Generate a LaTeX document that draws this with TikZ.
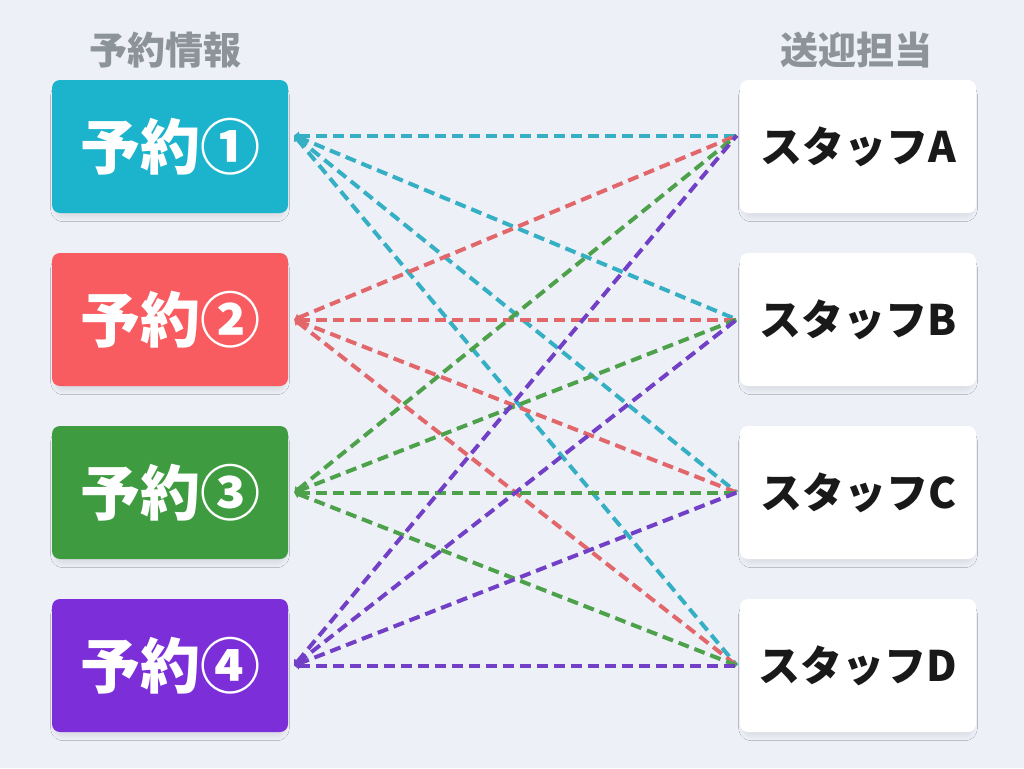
\documentclass[tikz,border=0pt]{standalone}
\usepackage{fontspec}
\newfontfamily\jpfont{Noto Sans CJK JP}
\usetikzlibrary{arrows.meta,shadows.blur}
\definecolor{bgcol}{HTML}{EEF0F8}
\definecolor{headgray}{HTML}{8C9399}
\definecolor{rescyan}{HTML}{1CB4CD}
\definecolor{resred}{HTML}{F85C60}
\definecolor{resgreen}{HTML}{3E9B3F}
\definecolor{respurple}{HTML}{7C2ED8}
\definecolor{cyanline}{HTML}{35AFC3}
\definecolor{redline}{HTML}{E2676A}
\definecolor{greenline}{HTML}{4EA14B}
\definecolor{purpleline}{HTML}{7240C6}
\tikzset{
	resbox/.style={
			rounded corners=8pt, minimum width=236pt, minimum height=133pt,
			text=white, font=\jpfont\bfseries\fontsize{60}{62}\selectfont,
			blur shadow={shadow xshift=0pt, shadow yshift=-6pt, shadow scale=0.97, shadow blur radius=5pt, shadow blur steps=10, shadow opacity=10}
		},
	staffbox/.style={
			rounded corners=8pt, minimum width=236pt, minimum height=133pt,
			fill=white, text=black!90, font=\jpfont\bfseries\fontsize{42}{44}\selectfont,
			blur shadow={shadow xshift=0pt, shadow yshift=-6pt, shadow scale=0.97, shadow blur radius=5pt, shadow blur steps=10, shadow opacity=9}
		},
	head/.style={text=headgray, font=\jpfont\bfseries\fontsize{38}{40}\selectfont},
	link/.style={line width=4pt, dash pattern=on 11pt off 6pt, {Triangle[length=5pt,width=8pt]}-}
}
\begin{document}
\begin{tikzpicture}[x=1pt,y=-1pt]
			% Background
			\fill[bgcol] (0,0) rectangle (1024,768);
			\useasboundingbox (0,0) rectangle (1024,768);
			
			% Column headings
			\node[head] (reshead) at (165,50) {予約情報};
			\node[head] (staffhead) at (856,50) {送迎担当};
			
			% Reservation boxes
			\node[resbox, fill=rescyan] (res1) at (170,146.5) {予約①};
			\node[resbox, fill=resred] (res2) at (170,319.5) {予約②};
			\node[resbox, fill=resgreen] (res3) at (170,492.5) {予約③};
			\node[resbox, fill=respurple] (res4) at (170,665.5) {予約④};
			
			% Staff boxes
			\node[staffbox] (staff1) at (858,146.5) {スタッフA};
			\node[staffbox] (staff2) at (858,319.5) {スタッフB};
			\node[staffbox] (staff3) at (858,492.5) {スタッフC};
			\node[staffbox] (staff4) at (858,665.5) {スタッフD};
			
			% Line end points
			\coordinate (s1) at ([xshift=6pt,yshift=11pt]res1.east);
			\coordinate (t1) at ([xshift=-3pt,yshift=11pt]staff1.west);
			\foreach \k in {2,3,4} {
				\coordinate (s\k) at ([xshift=6pt]res\k.east);
				\coordinate (t\k) at ([xshift=-3pt]staff\k.west);
			}
			
			% Every reservation to every staff member
			\foreach \i/\c in {1/cyanline,2/redline,3/greenline,4/purpleline}
				\foreach \j in {1,...,4}
					\draw[link,\c] (s\i) -- (t\j);
			
		\end{tikzpicture}
\end{document}
